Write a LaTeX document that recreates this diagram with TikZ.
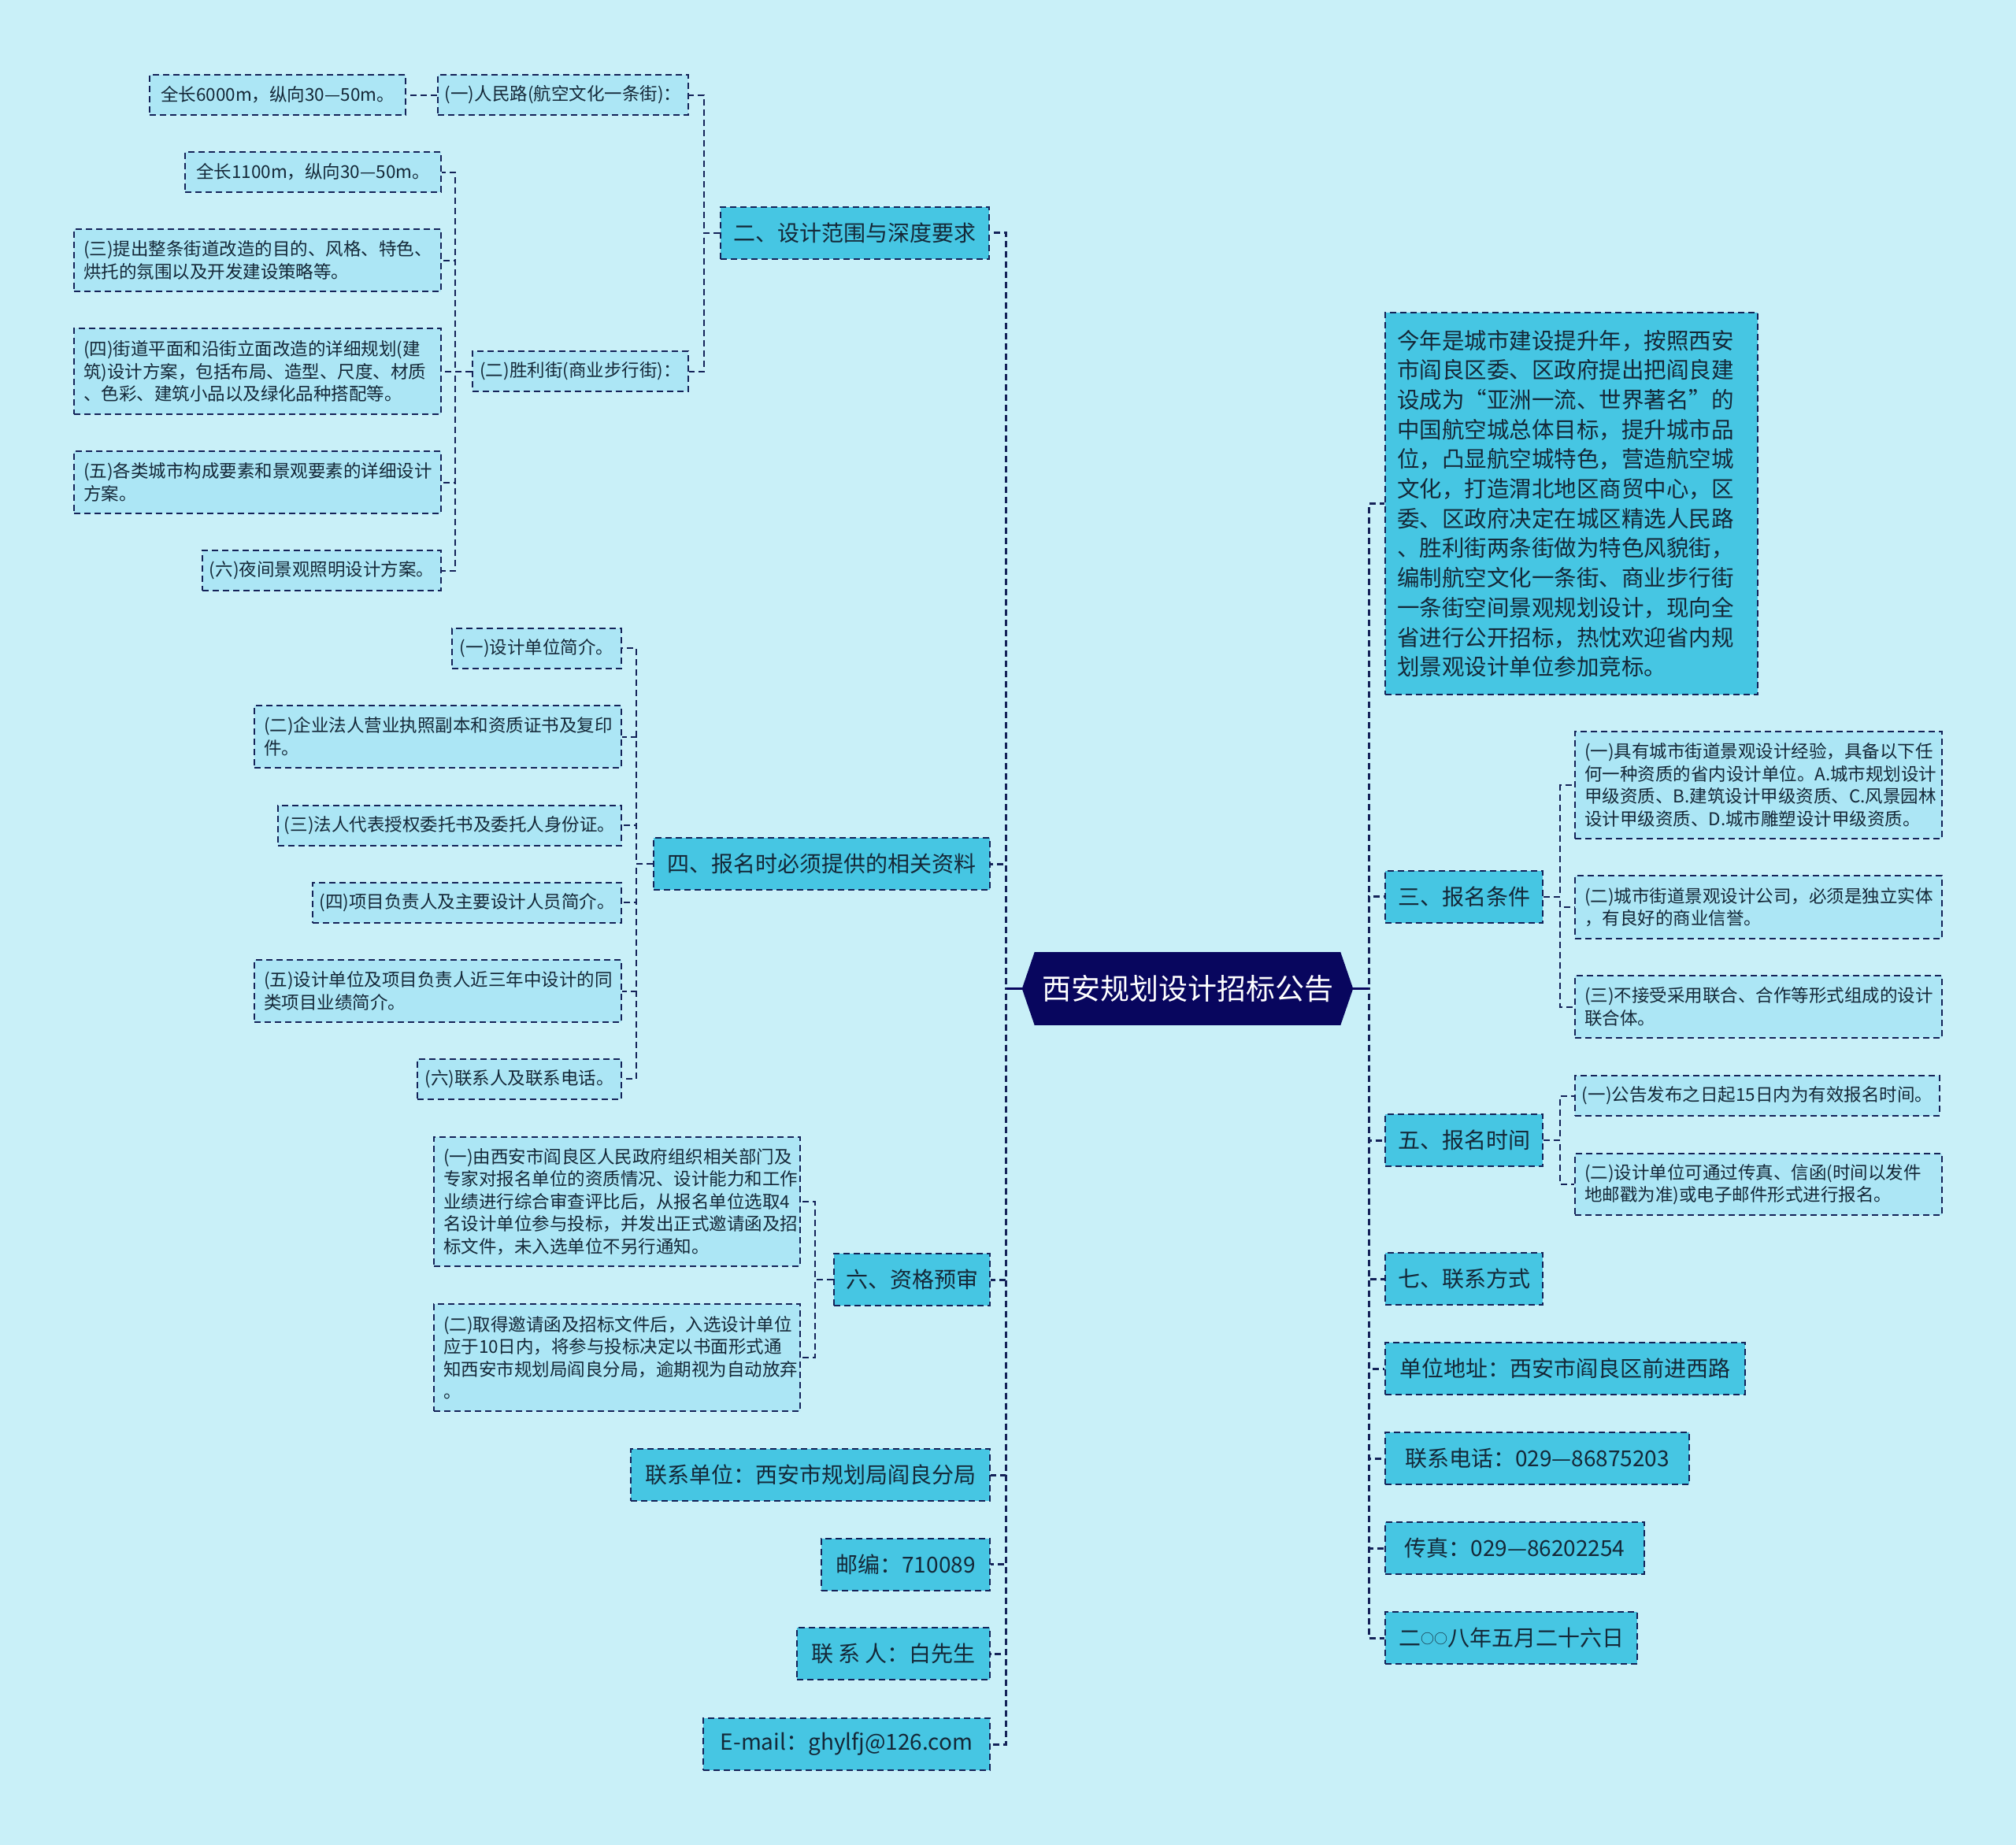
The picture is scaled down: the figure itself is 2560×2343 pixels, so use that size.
\documentclass[tikz,border=0pt]{standalone}
\usepackage{fontspec}
\setmainfont{Noto Sans CJK SC}
\usepackage{xcolor}
\usepackage{tikz}
\usetikzlibrary{positioning}
\definecolor{bgcyan}{RGB}{201,240,248}
\definecolor{topicfill}{RGB}{70,198,227}
\definecolor{leaffill}{RGB}{172,230,245}
\definecolor{rootnavy}{RGB}{8,6,94}
\definecolor{linkblue}{RGB}{20,34,88}
\definecolor{textdark}{RGB}{20,40,56}

\begin{document}
\begin{tikzpicture}[x=1pt, y=-1pt]
  \tikzstyle{topic} = [rectangle, draw=linkblue, line width=2pt, dash pattern=on 8pt off 5pt, fill=topicfill, text=textdark, font=\fontsize{28}{37.7}\selectfont, minimum height=66pt, inner xsep=15pt, inner ysep=4pt]
  \tikzstyle{leaf} = [rectangle, draw=linkblue, line width=2pt, dash pattern=on 8pt off 5pt, fill=leaffill, text=textdark, font=\fontsize{22.5}{28.5}\selectfont, minimum height=51pt, inner xsep=12pt, inner ysep=4pt, align=left]
  \tikzstyle{tag} = [leaf, inner xsep=5pt]
  \tikzstyle{link} = [draw=linkblue, line width=2pt, dash pattern=on 8pt off 5pt]
  \tikzstyle{trunk} = [draw=linkblue, line width=3pt, dash pattern=on 8pt off 5pt]
  \tikzstyle{stub} = [draw=rootnavy, line width=3pt]

  \fill[bgcyan] (0,0) rectangle (2560,2343);
  \useasboundingbox (0,0) rectangle (2560,2343);

  % centre
  \node[rectangle, fill=rootnavy, text=white, font=\fontsize{37}{40}\selectfont, minimum width=388pt, minimum height=93pt, inner sep=0pt] (root) at (1508,1255.5) {西安规划设计招标公告};
  \coordinate[left=16pt of root.west] (root_l);
  \coordinate[right=16pt of root.east] (root_r);
  \fill[rootnavy] (root.north west) -- (root_l) -- (root.south west) -- cycle;
  \fill[rootnavy] (root.north east) -- (root_r) -- (root.south east) -- cycle;

  % left topics
  \node[topic, minimum width=341pt, anchor=east] (scope) at (1257,295.5) {二、设计范围与深度要求};
  \node[topic, minimum width=427pt, anchor=east] (docs) at (1258,1097) {四、报名时必须提供的相关资料};
  \node[topic, minimum width=198pt, anchor=east] (prequal) at (1258,1625) {六、资格预审};
  \node[topic, minimum width=456pt, anchor=east] (unit) at (1258,1873) {联系单位：西安市规划局阎良分局};
  \node[topic, minimum width=214pt, anchor=east] (zip) at (1258,1986.5) {邮编：710089};
  \node[topic, minimum width=245pt, anchor=east] (person) at (1258,2100) {联 系 人：白先生};
  \node[topic, minimum width=364pt, anchor=east] (mail) at (1258,2215) {E-mail：ghylfj@126.com};

  % right topics
  \node[topic, text width=443pt, minimum height=485pt, align=left, font=\fontsize{28.5}{37.7}\selectfont, anchor=west] (intro) at (1758,639.5) {今年是城市建设提升年，按照西安\\市阎良区委、区政府提出把阎良建\\设成为“亚洲一流、世界著名”的\\中国航空城总体目标，提升城市品\\位，凸显航空城特色，营造航空城\\文化，打造渭北地区商贸中心，区\\委、区政府决定在城区精选人民路\\、胜利街两条街做为特色风貌街，\\编制航空文化一条街、商业步行街\\一条街空间景观规划设计，现向全\\省进行公开招标，热忱欢迎省内规\\划景观设计单位参加竞标。};
  \node[topic, minimum width=200pt, anchor=west] (cond) at (1758,1138.5) {三、报名条件};
  \node[topic, minimum width=200pt, anchor=west] (time) at (1758,1448) {五、报名时间};
  \node[topic, minimum width=200pt, anchor=west] (contact) at (1758,1624) {七、联系方式};
  \node[topic, minimum width=457pt, anchor=west] (addr) at (1758,1738) {单位地址：西安市阎良区前进西路};
  \node[topic, minimum width=386pt, anchor=west] (tel) at (1758,1852) {联系电话：029—86875203};
  \node[topic, minimum width=329pt, anchor=west] (fax) at (1758,1966) {传真：029—86202254};
  \node[topic, minimum width=320pt, anchor=west] (date) at (1758,2080) {二\raisebox{3pt}{\fontsize{17}{17}\selectfont ○○}八年五月二十六日};

  % design scope
  \node[tag, minimum width=318pt, anchor=east] (renmin) at (875,120.5) {(一)人民路(航空文化一条街)：};
  \node[tag, minimum width=274pt, anchor=east] (shengli) at (875,471.5) {(二)胜利街(商业步行街)：};
  \node[tag, minimum width=325pt, anchor=east] (renmin_len) at (516,120.5) {全长6000m，纵向30—50m。};
  \node[tag, minimum width=325pt, anchor=east] (shengli_len) at (561,218.5) {全长1100m，纵向30—50m。};
  \node[leaf, text width=442pt, minimum height=79pt, anchor=east] (req3) at (561,330.5) {(三)提出整条街道改造的目的、风格、特色、\\烘托的氛围以及开发建设策略等。};
  \node[leaf, text width=442pt, minimum height=109pt, anchor=east] (req4) at (561,471.5) {(四)街道平面和沿街立面改造的详细规划(建\\筑)设计方案，包括布局、造型、尺度、材质\\、色彩、建筑小品以及绿化品种搭配等。};
  \node[leaf, text width=442pt, minimum height=79pt, anchor=east] (req5) at (561,612.5) {(五)各类城市构成要素和景观要素的详细设计\\方案。};
  \node[tag, minimum width=303pt, anchor=east] (req6) at (561,724.5) {(六)夜间景观照明设计方案。};

  % documents
  \node[tag, minimum width=215pt, anchor=east] (doc1) at (790,823) {(一)设计单位简介。};
  \node[leaf, text width=442pt, minimum height=79pt, anchor=east] (doc2) at (790,935.5) {(二)企业法人营业执照副本和资质证书及复印\\件。};
  \node[tag, minimum width=436pt, anchor=east] (doc3) at (790,1048) {(三)法人代表授权委托书及委托人身份证。};
  \node[tag, minimum width=392pt, anchor=east] (doc4) at (790,1146) {(四)项目负责人及主要设计人员简介。};
  \node[leaf, text width=442pt, minimum height=79pt, anchor=east] (doc5) at (790,1258.5) {(五)设计单位及项目负责人近三年中设计的同\\类项目业绩简介。};
  \node[tag, minimum width=259pt, anchor=east] (doc6) at (790,1370) {(六)联系人及联系电话。};

  % prequalification
  \node[leaf, text width=441pt, minimum height=164pt, anchor=east] (pre1) at (1017,1526) {(一)由西安市阎良区人民政府组织相关部门及\\专家对报名单位的资质情况、设计能力和工作\\业绩进行综合审查评比后，从报名单位选取4\\名设计单位参与投标，并发出正式邀请函及招\\标文件，未入选单位不另行通知。};
  \node[leaf, text width=441pt, minimum height=136pt, anchor=east] (pre2) at (1017,1724) {(二)取得邀请函及招标文件后，入选设计单位\\应于10日内，将参与投标决定以书面形式通\\知西安市规划局阎良分局，逾期视为自动放弃\\。};

  % conditions and time
  \node[leaf, text width=442pt, minimum height=136pt, anchor=west] (cond1) at (1999,997) {(一)具有城市街道景观设计经验，具备以下任\\何一种资质的省内设计单位。A.城市规划设计\\甲级资质、B.建筑设计甲级资质、C.风景园林\\设计甲级资质、D.城市雕塑设计甲级资质。};
  \node[leaf, text width=442pt, minimum height=80pt, anchor=west] (cond2) at (1999,1152) {(二)城市街道景观设计公司，必须是独立实体\\，有良好的商业信誉。};
  \node[leaf, text width=442pt, minimum height=79pt, anchor=west] (cond3) at (1999,1278.5) {(三)不接受采用联合、合作等形式组成的设计\\联合体。};
  \node[tag, minimum width=463pt, anchor=west] (time1) at (1999,1391.5) {(一)公告发布之日起15日内为有效报名时间。};
  \node[leaf, text width=442pt, minimum height=78pt, anchor=west] (time2) at (1999,1504) {(二)设计单位可通过传真、信函(时间以发件\\地邮戳为准)或电子邮件形式进行报名。};

  % trunks from the centre
  \draw[trunk] (root_l) -- ++(-20,0) |- (scope.east);
  \draw[trunk] (root_l) -- ++(-20,0) |- (docs.east);
  \draw[trunk] (root_l) -- ++(-20,0) |- (prequal.east);
  \draw[trunk] (root_l) -- ++(-20,0) |- (unit.east);
  \draw[trunk] (root_l) -- ++(-20,0) |- (zip.east);
  \draw[trunk] (root_l) -- ++(-20,0) |- (person.east);
  \draw[trunk] (root_l) -- ++(-20,0) |- (mail.east);
  \draw[trunk] (root_r) -- ++(20,0) |- (intro.west);
  \draw[trunk] (root_r) -- ++(20,0) |- (cond.west);
  \draw[trunk] (root_r) -- ++(20,0) |- (time.west);
  \draw[trunk] (root_r) -- ++(20,0) |- (contact.west);
  \draw[trunk] (root_r) -- ++(20,0) |- (addr.west);
  \draw[trunk] (root_r) -- ++(20,0) |- (tel.west);
  \draw[trunk] (root_r) -- ++(20,0) |- (fax.west);
  \draw[trunk] (root_r) -- ++(20,0) |- (date.west);
  \draw[stub] (root_l) -- ++(-20,0);
  \draw[stub] (root_r) -- ++(20,0);

  % branches
  \draw[link] (scope.west) -- ++(-20,0) |- (renmin.east);
  \draw[link] (scope.west) -- ++(-20,0) |- (shengli.east);
  \draw[link] (renmin.west) -- (renmin_len.east);
  \draw[link] (shengli.west) -- ++(-21,0) |- (shengli_len.east);
  \draw[link] (shengli.west) -- ++(-21,0) |- (req3.east);
  \draw[link] (shengli.west) -- ++(-21,0) |- (req4.east);
  \draw[link] (shengli.west) -- ++(-21,0) |- (req5.east);
  \draw[link] (shengli.west) -- ++(-21,0) |- (req6.east);
  \draw[link] (docs.west) -- ++(-21,0) |- (doc1.east);
  \draw[link] (docs.west) -- ++(-21,0) |- (doc2.east);
  \draw[link] (docs.west) -- ++(-21,0) |- (doc3.east);
  \draw[link] (docs.west) -- ++(-21,0) |- (doc4.east);
  \draw[link] (docs.west) -- ++(-21,0) |- (doc5.east);
  \draw[link] (docs.west) -- ++(-21,0) |- (doc6.east);
  \draw[link] (prequal.west) -- ++(-23,0) |- (pre1.east);
  \draw[link] (prequal.west) -- ++(-23,0) |- (pre2.east);
  \draw[link] (cond.east) -- ++(21,0) |- (cond1.west);
  \draw[link] (cond.east) -- ++(21,0) |- (cond2.west);
  \draw[link] (cond.east) -- ++(21,0) |- (cond3.west);
  \draw[link] (time.east) -- ++(21,0) |- (time1.west);
  \draw[link] (time.east) -- ++(21,0) |- (time2.west);
\end{tikzpicture}
\end{document}
